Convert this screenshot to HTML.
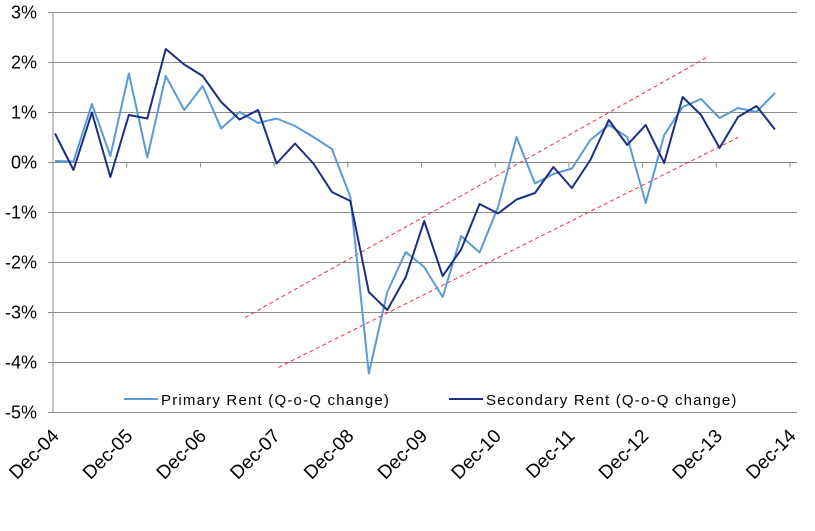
<!DOCTYPE html>
<html><head><meta charset="utf-8"><style>
html,body{margin:0;padding:0;background:#fff;}
svg{display:block;font-family:"Liberation Sans",Arial,sans-serif;}
</style></head><body>
<svg id="chart" width="815" height="531" viewBox="0 0 815 531" xmlns="http://www.w3.org/2000/svg"></svg>
<script>
const yTicks=[3,2,1,0,-1,-2,-3,-4,-5];
const yTickLabels=["3%","2%","1%","0%","-1%","-2%","-3%","-4%","-5%"];
const xLabels=["Dec-04","Dec-05","Dec-06","Dec-07","Dec-08","Dec-09","Dec-10","Dec-11","Dec-12","Dec-13","Dec-14"];
const primaryRent=[0.03,0.02,1.17,0.13,1.78,0.10,1.73,1.05,1.53,0.68,1.01,0.79,0.88,0.73,0.51,0.27,-0.69,-4.22,-2.59,-1.79,-2.09,-2.69,-1.47,-1.80,-0.89,0.51,-0.42,-0.23,-0.12,0.45,0.75,0.51,-0.81,0.55,1.11,1.27,0.89,1.09,1.01,1.39];
const secondaryRent=[0.58,-0.15,1.00,-0.29,0.95,0.88,2.27,1.96,1.73,1.21,0.86,1.05,-0.02,0.38,-0.02,-0.59,-0.77,-2.59,-2.95,-2.29,-1.17,-2.27,-1.74,-0.83,-1.02,-0.74,-0.61,-0.09,-0.51,0.05,0.85,0.35,0.75,-0.01,1.31,0.95,0.29,0.91,1.13,0.66];
// trend channel endpoints in (quarter index, value)
const upperTrend=[[10.3,-3.1],[35.3,2.1]];
const lowerTrend=[[12.1,-4.1],[37.0,0.5]];

const NS="http://www.w3.org/2000/svg";
const svg=document.getElementById('chart');
const X0=53,X1=790,Y0=162.5,PX=50;
const yS=v=>Y0-v*PX;
const xI=i=>55+i*18.46;
const xYear=k=>X0+k*(X1-X0)/10;
function mk(t,a,p){const e=document.createElementNS(NS,t);for(const k in a)e.setAttribute(k,a[k]);(p||svg).appendChild(e);return e;}

yTicks.forEach((v,i)=>{
  const g=mk('line',{x1:X0-5,x2:797,y1:yS(v),y2:yS(v),stroke:'#8c8c8c','stroke-width':1});
  
  
  const t=mk('text',{x:37,y:yS(v)+6,'text-anchor':'end','font-size':18,fill:'#000'});
  t.textContent=yTickLabels[i];
  
  
});
const ax=mk('line',{x1:X0,x2:X0,y1:yS(3),y2:yS(-5),stroke:'#8c8c8c','stroke-width':1});



xLabels.forEach((l,k)=>{
  const x=xYear(k);
  const tk=mk('line',{x1:x,x2:x,y1:Y0,y2:Y0+5,stroke:'#8c8c8c'});
  
  
  const t=mk('text',{x:x+7,y:437,'text-anchor':'end','font-size':19,fill:'#000',transform:`rotate(-45 ${x+7} 437)`});
  t.textContent=l;
  
  
});

[upperTrend,lowerTrend].forEach((tr,i)=>{
  const l=mk('line',{x1:xI(tr[0][0]),y1:yS(tr[0][1]),x2:xI(tr[1][0]),y2:yS(tr[1][1]),stroke:'#e8313a','stroke-width':1,'stroke-dasharray':'4,3'});
  
  
});

function series(d,c,n){
  const p=mk('polyline',{points:d.map((v,i)=>xI(i)+','+yS(v)).join(' '),fill:'none',stroke:c,'stroke-width':2,'stroke-linejoin':'round'});
  
  
}
series(primaryRent,'#5b9bd5','primary-rent-line');
series(secondaryRent,'#1c2f80','secondary-rent-line');

const legend=[['Primary Rent (Q-o-Q change)','#5b9bd5',124],['Secondary Rent (Q-o-Q change)','#1c2f80',449]];
legend.forEach((e,i)=>{
  const g=mk('g',{});
  
  
  mk('line',{x1:e[2],x2:e[2]+34,y1:399,y2:399,stroke:e[1],'stroke-width':2},g);
  const t=mk('text',{x:e[2]+37,y:405,'font-size':15,'letter-spacing':1.2,fill:'#000'},g);
  t.textContent=e[0];
});
</script>
</body></html>
